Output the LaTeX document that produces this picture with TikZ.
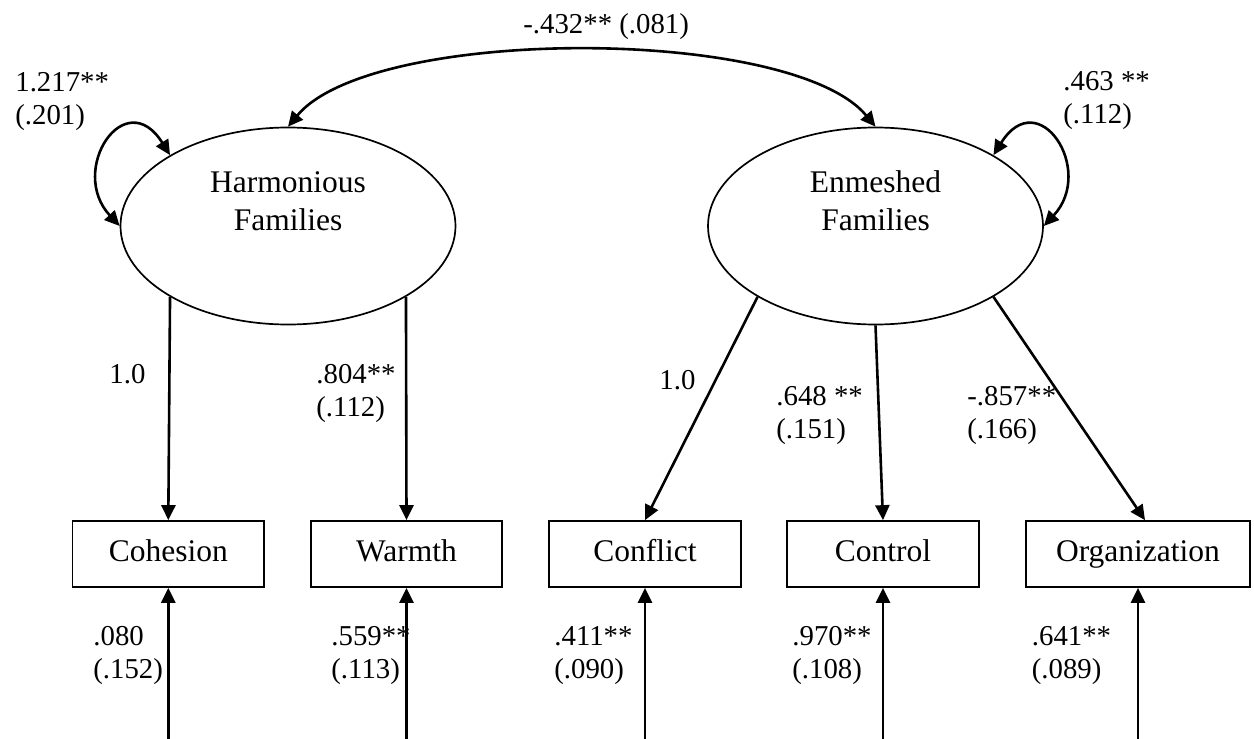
\documentclass[tikz,border=0pt]{standalone}
\usepackage{fontspec}
\setmainfont{Liberation Serif}
\usetikzlibrary{arrows.meta,shapes.geometric}
\newcommand{\mainsize}{\fontsize{15.75}{18.9}\selectfont}
\newcommand{\labsize}{\fontsize{14.4}{16.75}\selectfont}
\tikzset{
  latent/.style={draw, ellipse, line width=0.85pt, minimum width=167.5pt,
    minimum height=98.5pt, inner sep=0pt},
  observed/.style={draw, rectangle, line width=0.85pt, minimum width=95.75pt,
    minimum height=33pt, inner sep=0pt, font=\mainsize,
    text height=11pt, text depth=3.3pt},
  % multi-line nodes: the base anchor sits on the last line
  nametext/.style={align=center, font=\mainsize, inner sep=0pt, anchor=base},
  est/.style={align=left, font=\labsize, inner sep=0pt, anchor=base west},
  onehead/.style={line width=1.3pt, -{Triangle[length=7.5pt,width=7pt]}},
  twohead/.style={line width=1.3pt,
    {Triangle[length=7.5pt,width=7pt]}-{Triangle[length=7.5pt,width=7pt]}},
}
\begin{document}
\begin{tikzpicture}[x=0.5pt, y=-0.5pt]
  \useasboundingbox (0,0) rectangle (1254,739);

  % latent factors
  \node[latent] (H) at (288,226) {};
  \node[latent] (E) at (875.5,226) {};
  \node[nametext] (Ht) at (288,230) {Harmonious\\Families};
  \node[nametext] (Et) at (875.5,230) {Enmeshed\\Families};

  % indicators
  \node[observed] (Coh) at (168.3,554) {Cohesion};
  \node[observed] (War) at (406.5,554) {Warmth};
  \node[observed] (Con) at (645,554) {Conflict};
  \node[observed] (Ctl) at (883,554) {Control};
  \node[observed, minimum width=112pt] (Org) at (1138,554) {Organization};

  % factor covariance
  \draw[twohead] (H.north) .. controls +(84,-101) and +(-84,-101) .. (E.north);
  \node[est] (cov) at (523,33) {-.432** (.081)};

  % factor variances
  \draw[twohead] (H.149) .. controls +(-45,-72) and +(-52,-56) .. (H.180);
  \draw[twohead] (E.31) .. controls +(45,-72) and +(52,-56) .. (E.0);
  \node[est] (vH) at (15,124.5) {1.217**\\(.201)};
  \node[est] (vE) at (1063,123.5) {.463 **\\(.112)};

  % loadings
  \draw[onehead] (H.211) -- (Coh.north);
  \draw[onehead] (H.-31) -- (War.north);
  \draw[onehead] (E.211) -- (Con.north);
  \draw[onehead] (E.south) -- (Ctl.north);
  \draw[onehead] (E.-31) -- ([xshift=3.5pt]Org.north);
  \node[est] (lCoh) at (109,383) {1.0};
  \node[est] (lWar) at (316,416.5) {.804**\\(.112)};
  \node[est] (lCon) at (659,389) {1.0};
  \node[est] (lCtl) at (776,438.5) {.648 **\\(.151)};
  \node[est] (lOrg) at (967,438.5) {-.857**\\(.166)};

  % residual variances
  \coordinate (rCoh) at (168.3,739);
  \coordinate (rWar) at (406.5,739);
  \coordinate (rCon) at (645,739);
  \coordinate (rCtl) at (883,739);
  \coordinate (rOrg) at (1138,739);
  \draw[onehead] (rCoh) -- (Coh.south);
  \draw[onehead] (rWar) -- (War.south);
  \draw[onehead] (rCon) -- (Con.south);
  \draw[onehead] (rCtl) -- (Ctl.south);
  \draw[onehead] (rOrg) -- (Org.south);
  \node[est] (eCoh) at (93,678.5) {.080\\(.152)};
  \node[est] (eWar) at (331,678.5) {.559**\\(.113)};
  \node[est] (eCon) at (554,678.5) {.411**\\(.090)};
  \node[est] (eCtl) at (792,678.5) {.970**\\(.108)};
  \node[est] (eOrg) at (1031.5,678.5) {.641**\\(.089)};
\end{tikzpicture}
\end{document}
